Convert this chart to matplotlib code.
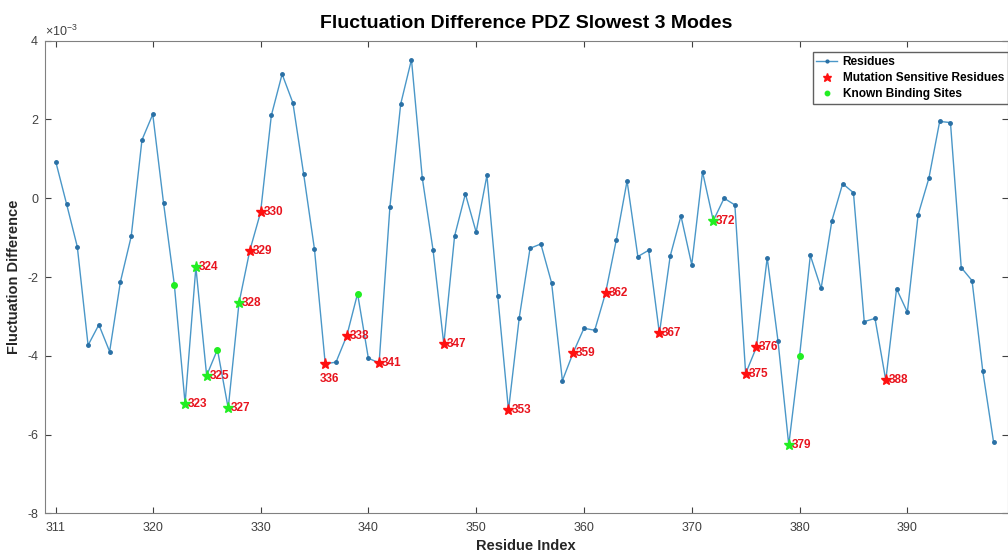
import matplotlib.pyplot as plt
import numpy as np

plt.rcParams['font.family'] = ['Liberation Sans', 'DejaVu Sans']
plt.rcParams['mathtext.fontset'] = 'custom'
plt.rcParams['mathtext.rm'] = 'Liberation Sans'
plt.rcParams['axes.unicode_minus'] = False

# residues 311..398, values in units of 1e-3
residues = np.arange(311, 399)
fluct_diff = [0.93, -0.14, -1.23, -3.73, -3.21, -3.89, -2.12, -0.97, 1.48, 2.13,
              -0.12, -2.19, -5.21, -1.75, -4.50, -3.84, -5.33, -2.66, -1.33, -0.36,
              2.10, 3.15, 2.42, 0.61, -1.29, -4.20, -4.16, -3.49, -2.42, -4.06,
              -4.18, -0.22, 2.39, 3.52, 0.52, -1.31, -3.70, -0.96, 0.11, -0.86,
              0.58, -2.47, -5.38, -3.03, -1.27, -1.16, -2.15, -4.63, -3.92, -3.30,
              -3.35, -2.41, -1.06, 0.44, -1.48, -1.32, -3.43, -1.47, -0.45, -1.69,
              0.67, -0.57, 0.00, -0.17, -4.45, -3.78, -1.51, -3.62, -6.26, -4.01,
              -1.45, -2.29, -0.57, 0.37, 0.14, -3.13, -3.05, -4.62, -2.30, -2.89,
              -0.42, 0.51, 1.95, 1.92, -1.76, -2.09, -4.39, -6.19]

sensitive = [323, 324, 325, 327, 328, 329, 330, 336, 338, 341, 347, 353, 359,
             362, 367, 372, 375, 376, 379, 388]
binding = [322, 323, 324, 325, 326, 327, 328, 339, 372, 379, 380]

xticks = [311, 320, 330, 340, 350, 360, 370, 380, 390]
yticks = [-8, -6, -4, -2, 0, 2, 4]

vals = dict(zip(residues, fluct_diff))
line_col = '#4a97c8'
txt_col = '#404040'

fig = plt.figure(figsize=(10.08, 5.55), dpi=100)
ax = fig.add_axes([0.0446, 0.0748, 0.955, 0.852])

ax.plot(residues, fluct_diff, '-', color=line_col, lw=1.0, marker='.',
        markersize=5, markerfacecolor='#2a70a5', markeredgecolor='#2a70a5',
        label='Residues')

sens_only = [r for r in sensitive if r not in binding]
both = [r for r in sensitive if r in binding]
bind_only = [r for r in binding if r not in sensitive]

ax.plot(sens_only, [vals[r] for r in sens_only], '*', color='#ff1010',
        markersize=8, ls='none', label='Mutation Sensitive Residues')
ax.plot(bind_only, [vals[r] for r in bind_only], '.', color='#22ee22',
        markersize=8, ls='none', label='Known Binding Sites')
ax.plot(both, [vals[r] for r in both], '*', color='#22ee22', markersize=8,
        ls='none')

for r in sensitive:
    if r == 336:
        ax.annotate(str(r), (r, vals[r]), xytext=(3, -11), textcoords='offset points',
                    ha='center', va='center', color='#e8141e', fontsize=8.5,
                    fontweight='bold')
    else:
        ax.annotate(str(r), (r, vals[r]), xytext=(2, 0), textcoords='offset points',
                    ha='left', va='center', color='#e8141e', fontsize=8.5,
                    fontweight='bold')

ax.set_xlim(310, 399.3)
ax.set_ylim(-8, 4)
ax.set_xticks(xticks)
ax.set_yticks(yticks)
ax.tick_params(direction='in', top=True, right=True, labelsize=9,
               colors=txt_col, length=4, width=0.8)
ax.tick_params(axis='x', pad=6)
ax.tick_params(axis='y', pad=5)
for s in ax.spines.values():
    s.set_color('#808080')
    s.set_linewidth(0.8)

ax.text(0.0, 1.004, r'$\times10^{-3}$', transform=ax.transAxes, ha='left',
        va='bottom', fontsize=9, color=txt_col)

ax.set_title('Fluctuation Difference PDZ Slowest 3 Modes', fontsize=14,
             fontweight='bold', pad=9)
ax.set_xlabel('Residue Index', fontsize=10.5, fontweight='bold', labelpad=4,
              color='#262626')
ax.set_ylabel('Fluctuation Difference', fontsize=10.5, fontweight='bold',
              labelpad=4, color='#262626')

leg = ax.legend(loc='upper right', bbox_to_anchor=(1.0, 0.975), borderaxespad=0,
                fancybox=False, framealpha=1, edgecolor='#606060',
                prop={'size': 8.6, 'weight': 'bold'}, handlelength=1.7,
                handletextpad=0.5, borderpad=0.3, labelspacing=0.35,
                markerscale=0.8)

fig.savefig('out.png', dpi=100)
